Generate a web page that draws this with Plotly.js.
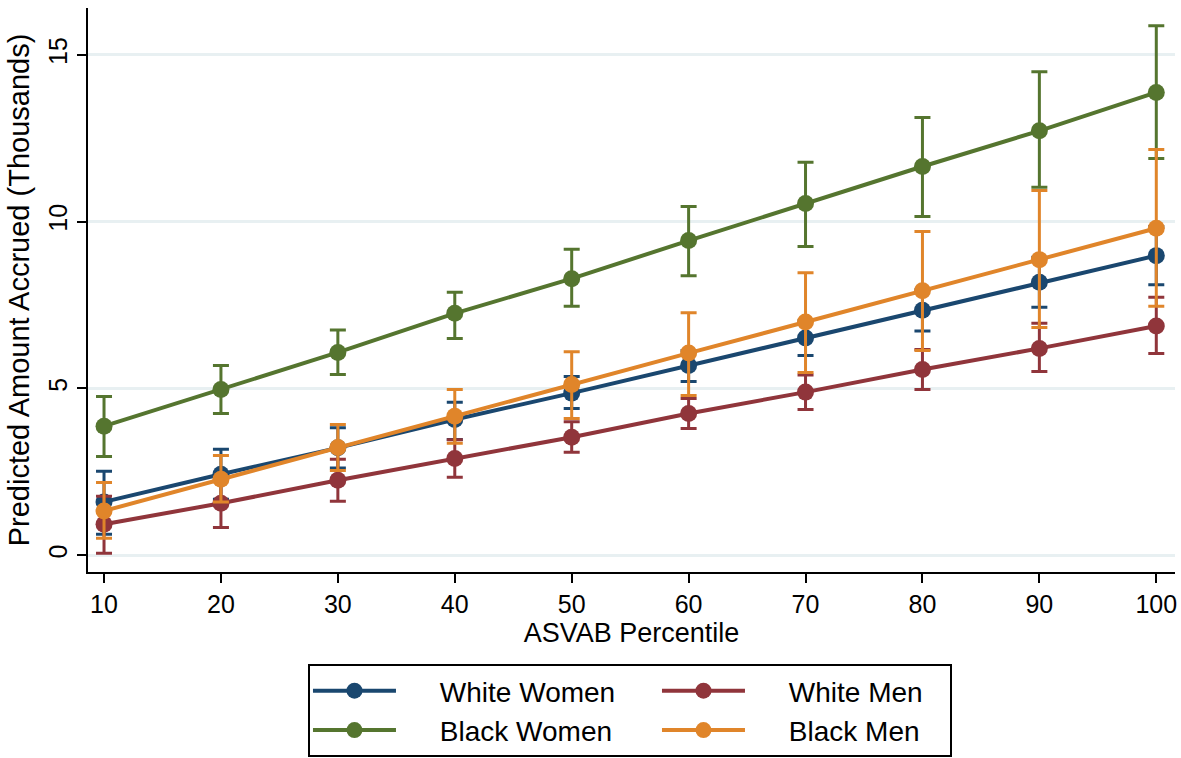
<!DOCTYPE html>
<html>
<head>
<meta charset="utf-8">
<script src="https://cdn.plot.ly/plotly-3.0.1.min.js"></script>
<style>html,body{margin:0;padding:0;background:#fff;}#chart{width:1181px;height:758px;}</style>
</head>
<body>
<div id="chart"></div>
<script>
const percentiles = [10, 20, 30, 40, 50, 60, 70, 80, 90, 100];

const whiteWomen      = [1.60, 2.43, 3.22, 4.07, 4.86, 5.69, 6.51, 7.34, 8.18, 8.98];
const whiteWomenLower = [0.63, 1.68, 2.62, 3.47, 4.40, 5.21, 5.99, 6.72, 7.43, 8.11];
const whiteWomenUpper = [2.52, 3.18, 3.82, 4.59, 5.36, 6.14, 7.03, 7.96, 8.93, 9.85];

const whiteMen      = [0.93, 1.56, 2.25, 2.90, 3.54, 4.25, 4.89, 5.57, 6.20, 6.87];
const whiteMenLower = [0.06, 0.83, 1.62, 2.34, 3.09, 3.80, 4.37, 4.97, 5.51, 6.05];
const whiteMenUpper = [1.77, 2.29, 2.88, 3.46, 4.00, 4.70, 5.40, 6.17, 6.95, 7.73];

const blackWomen      = [3.87, 4.97, 6.08, 7.25, 8.29, 9.43, 10.54, 11.65, 12.72, 13.87];
const blackWomenLower = [2.96, 4.25, 5.42, 6.50, 7.46, 8.38, 9.25, 10.15, 11.03, 11.89];
const blackWomenUpper = [4.76, 5.69, 6.75, 7.88, 9.17, 10.45, 11.78, 13.12, 14.49, 15.87];

const blackMen      = [1.33, 2.28, 3.23, 4.17, 5.12, 6.06, 6.99, 7.93, 8.86, 9.80];
const blackMenLower = [0.51, 1.60, 2.54, 3.36, 4.10, 4.79, 5.48, 6.14, 6.83, 7.46];
const blackMenUpper = [2.18, 2.99, 3.92, 4.97, 6.10, 7.27, 8.47, 9.70, 10.93, 12.16];

const seriesNames = ['White Women', 'White Men', 'Black Women', 'Black Men'];
const xTickVals = [10, 20, 30, 40, 50, 60, 70, 80, 90, 100];
const yTickVals = [0, 5, 10, 15];

const PAD = '\u00a0\u00a0\u00a0\u00a0\u00a0';

function series(name, group, lw, y, lo, hi, color) {
  return {
    type: 'scatter', mode: 'lines+markers', name: PAD + name,
    legendgroup: group, legendwidth: lw,
    x: percentiles, y: y,
    line: {color: color, width: 4},
    marker: {color: color, size: 17},
    error_y: {
      type: 'data', symmetric: false,
      array: hi.map((v, i) => v - y[i]),
      arrayminus: lo.map((v, i) => y[i] - v),
      color: color, thickness: 3, width: 8
    }
  };
}

const data = [
  series(seriesNames[0], 'women', 251, whiteWomen, whiteWomenLower, whiteWomenUpper, '#1a476f'),
  series(seriesNames[1], 'men', 195, whiteMen, whiteMenLower, whiteMenUpper, '#90353b'),
  series(seriesNames[2], 'women', 251, blackWomen, blackWomenLower, blackWomenUpper, '#55752f'),
  series(seriesNames[3], 'men', 195, blackMen, blackMenLower, blackMenUpper, '#e0852a')
];

const layout = {
  width: 1181, height: 758,
  margin: {l: 88, r: 6, t: 8, b: 186, autoexpand: false},
  paper_bgcolor: '#fff', plot_bgcolor: '#fff',
  font: {family: 'Liberation Sans, Arial, sans-serif', size: 25, color: '#000'},
  showlegend: true,
  xaxis: {
    range: [8.63, 101.6], tickvals: xTickVals, ticktext: xTickVals.map(String),
    showgrid: false, zeroline: false, showline: true, linecolor: '#000', linewidth: 2,
    ticks: 'outside', ticklen: 9, tickwidth: 2, tickcolor: '#000',
    tickfont: {size: 25}, automargin: false,
    title: {text: 'ASVAB Percentile', font: {size: 27}, standoff: 4}
  },
  yaxis: {
    range: [-0.5, 16.4], tickvals: yTickVals, ticktext: yTickVals.map(String),
    tickangle: -90, automargin: false,
    showgrid: true, gridcolor: '#e8f0f2', gridwidth: 3,
    zeroline: false, showline: true, linecolor: '#000', linewidth: 2,
    ticks: 'outside', ticklen: 9, tickwidth: 2, tickcolor: '#000',
    tickfont: {size: 25},
    title: {text: 'Predicted Amount Accrued (Thousands)', font: {size: 29}, standoff: 6}
  },
  legend: {
    orientation: 'h', x: 0.4986, xanchor: 'center', y: -0.163, yanchor: 'top',
    bordercolor: '#000', borderwidth: 2, bgcolor: '#fff',
    entrywidth: 251, entrywidthmode: 'pixels', itemwidth: 83,
    font: {size: 28}, traceorder: 'grouped', tracegroupgap: 0
  }
};

Plotly.newPlot('chart', data, layout, {displayModeBar: false, staticPlot: true});
</script>
</body>
</html>
